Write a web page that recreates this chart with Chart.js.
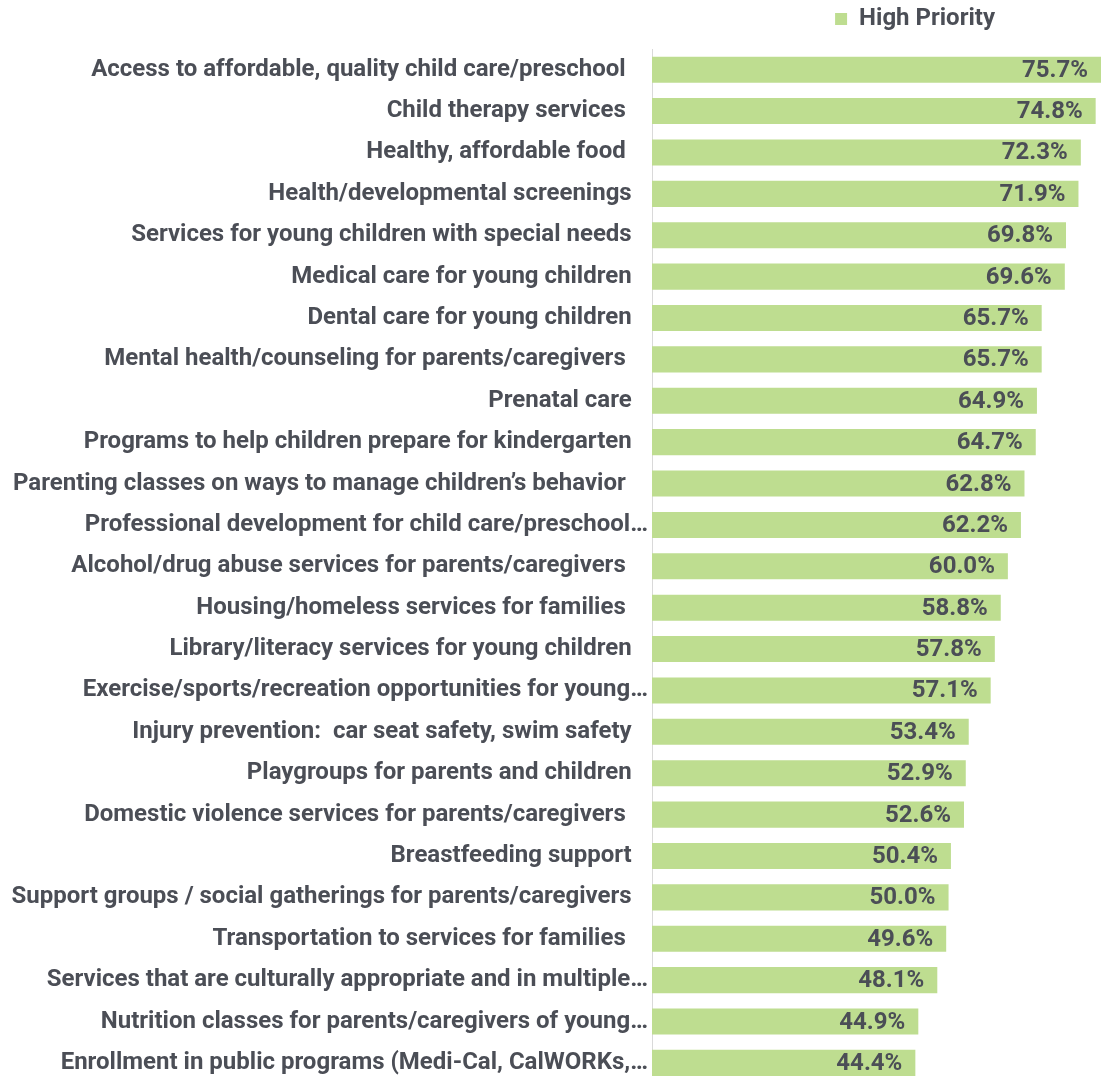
<!DOCTYPE html>
<html>
<head>
<meta charset="utf-8">
<script src="https://cdn.jsdelivr.net/npm/chart.js@4"></script>
<style>
  html, body { margin: 0; padding: 0; background: #fff; overflow: hidden; }
  canvas { display: block; }
</style>
</head>
<body>
<canvas id="chart" width="1101" height="1102"></canvas>
<script>
// categories as they appear top to bottom (trailing spaces kept from the source labels)
const categories = [
  "Access to affordable, quality child care/preschool ",
  "Child therapy services ",
  "Healthy, affordable food ",
  "Health/developmental screenings",
  "Services for young children with special needs",
  "Medical care for young children",
  "Dental care for young children",
  "Mental health/counseling for parents/caregivers ",
  "Prenatal care",
  "Programs to help children prepare for kindergarten",
  "Parenting classes on ways to manage children\u2019s behavior ",
  "Professional development for child care/preschool\u2026",
  "Alcohol/drug abuse services for parents/caregivers ",
  "Housing/homeless services for families ",
  "Library/literacy services for young children",
  "Exercise/sports/recreation opportunities for young\u2026",
  "Injury prevention:  car seat safety, swim safety",
  "Playgroups for parents and children",
  "Domestic violence services for parents/caregivers ",
  "Breastfeeding support",
  "Support groups / social gatherings for parents/caregivers",
  "Transportation to services for families ",
  "Services that are culturally appropriate and in multiple\u2026",
  "Nutrition classes for parents/caregivers of young\u2026",
  "Enrollment in public programs (Medi-Cal, CalWORKs,\u2026"
];

const highPriority = [
  75.7, 74.8, 72.3, 71.9, 69.8, 69.6, 65.7, 65.7, 64.9, 64.7,
  62.8, 62.2, 60.0, 58.8, 57.8, 57.1, 53.4, 52.9, 52.6, 50.4,
  50.0, 49.6, 48.1, 44.9, 44.4
];

const seriesName = "High Priority";
const xMax = 75.7;

const textColor = "#4b4e56";
const barColor = "#bedd90";

// value labels drawn at the end of each bar
const valueLabels = {
  id: "valueLabels",
  afterDatasetsDraw(chart) {
    const ctx = chart.ctx;
    const meta = chart.getDatasetMeta(0);
    ctx.save();
    ctx.font = "bold 24px Roboto";
    ctx.fillStyle = textColor;
    ctx.textAlign = "right";
    ctx.textBaseline = "middle";
    meta.data.forEach((bar, i) => {
      ctx.fillText(highPriority[i].toFixed(1) + "%", bar.x - 13, bar.y + 1);
    });
    ctx.restore();
  }
};

// nudge the legend over the bars like in the original
const legendSpot = {
  id: "legendSpot",
  afterLayout(chart) {
    const lg = chart.legend;
    lg.right -= 96;
    lg.top -= 8;
    lg.bottom -= 8;
  }
};

new Chart(document.getElementById("chart"), {
  type: "bar",
  data: {
    labels: categories,
    datasets: [{
      label: seriesName,
      data: highPriority,
      backgroundColor: barColor,
      borderWidth: 0,
      barPercentage: 0.9,
      categoryPercentage: 0.7
    }]
  },
  options: {
    indexAxis: "y",
    responsive: false,
    animation: false,
    layout: { padding: { top: 5, left: 0, right: 0, bottom: 0 } },
    scales: {
      x: {
        display: false,
        min: 0,
        max: xMax
      },
      y: {
        afterFit(scale) { scale.width = 652; },
        grid: { display: false, drawTicks: false },
        border: { display: true, color: "#d9d9d9", width: 1 },
        ticks: {
          padding: 4,
          color: textColor,
          font: { family: "Roboto", weight: "bold", size: 24 },
          callback(value) {
            const lab = categories[value];
            return lab.endsWith("\u2026") ? lab : lab + "\u2002\u2006";
          }
        }
      }
    },
    plugins: {
      legend: {
        position: "top",
        align: "end",
        labels: {
          boxWidth: 12,
          boxHeight: 12,
          padding: 10,
          color: textColor,
          font: { family: "Roboto", weight: "bold", size: 24 }
        }
      },
      tooltip: { enabled: false }
    }
  },
  plugins: [valueLabels, legendSpot]
});
</script>
</body>
</html>
